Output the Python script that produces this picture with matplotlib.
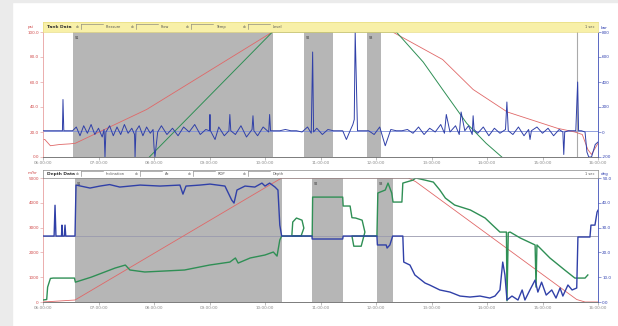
import matplotlib
matplotlib.use('Agg')
import matplotlib.pyplot as plt
from matplotlib.patches import Rectangle

# time axis in minutes from the start of the log (0..600)
time_labels = ['06:00:00', '07:00:00', '08:00:00', '09:00:00', '10:00:00', '11:00:00',
               '12:00:00', '13:00:00', '14:00:00', '15:00:00', '16:00:00']
tick_minutes = [0, 60, 120, 180, 240, 300, 360, 420, 480, 540, 600]

# ---- upper panel (Tank Data) ----
top_spans = [(32.4, 248.6), (282.1, 313.5), (350.2, 365.4)]
top_left_labels = ['0.0', '20.0', '40.0', '60.0', '80.0', '100.0']
top_right_labels = ['-200', '0', '200', '400', '600', '800']

top_red_x = [0, 2, 8, 18, 29, 35, 112, 248, 378, 432, 465, 502, 556, 575, 583, 589, 593, 600]
top_red_y = [14, 14, 9, 10, 10.5, 11, 38, 100, 100, 78, 54, 36, 23, 20, 18, 6, 2, 11]

top_green_x = [115, 248, 382, 411, 432, 458, 479, 496]
top_green_y = [0, 100, 100, 76, 54, 27, 11, 0]

top_blue_x = [0, 18, 21, 21.6, 22.5, 25, 32, 36, 40, 44, 48, 52, 56, 60, 64, 66, 67, 68, 72, 76,
              80, 84, 88, 92, 96, 99, 99.5, 100.5, 104, 108, 112, 116, 119, 120, 121, 124, 128,
              134, 140, 146, 152, 158, 164, 170, 176, 180, 180.5, 181, 186, 190, 196, 201, 202,
              203, 208, 214, 220, 226, 227, 228, 232, 238, 244, 245, 246, 250, 256, 262, 268,
              274, 280, 286, 290, 291.5, 292.5, 296, 302, 308, 314, 320, 322, 324, 328, 332,
              335, 336.5, 337.5, 340, 346, 352, 358, 364, 370, 376, 382, 388, 394, 400, 406,
              412, 418, 424, 430, 434, 436, 440, 446, 450, 452, 456, 460, 464, 465, 466, 470,
              476, 482, 488, 494, 500, 501.5, 503, 508, 514, 520, 525, 526.5, 528, 534, 540,
              546, 552, 558, 562, 563, 564, 568, 572, 576, 578, 579, 582, 586, 588, 590, 593,
              597, 600]
top_blue_y = [21, 21, 21, 46, 21, 21, 21, 24, 17, 25, 19, 26, 18, 23, 16, 22, 0, 20, 25, 17,
              24, 18, 26, 19, 23, 18, 0, 21, 25, 17, 24, 19, 22, 8, 0, 20, 25,
              18, 23, 17, 24, 20, 26, 18, 22, 21, 34, 21, 14, 24, 17, 21, 34,
              21, 18, 25, 16, 22, 33, 21, 17, 24, 20, 34, 21, 21, 21, 22, 21,
              21, 20, 24, 19, 84, 20, 23, 18, 22, 21, 21, 21, 21, 14, 21,
              26, 30, 100, 21, 21, 21, 18, 24, 9, 22, 21, 21, 22, 19, 24,
              18, 23, 20, 26, 19, 34, 20, 25, 18, 36, 21, 25, 18, 33, 22, 19,
              24, 17, 23, 19, 22, 44, 21, 18, 24, 17, 22, 14, 21, 24, 19,
              23, 17, 22, 20, 2, 20, 21, 21, 21, 60, 21, 21, 20, 4, 0, 0,
              10, 12]

# ---- lower panel (Depth Data) ----
bot_spans = [(34.6, 258.0), (290.8, 324.3), (361.1, 378.4)]
bot_left_labels = ['0', '1000', '2000', '3000', '4000', '5000']
bot_right_labels = ['0.0', '10.0', '20.0', '30.0', '40.0', '50.0']

bot_red_x = [0, 34.6, 248.6, 258, 395, 403, 577, 586, 600]
bot_red_y = [0, 1.6, 95.9, 100, 100, 97, 2, 0, 0]

bot_green_x = [0, 4, 5, 8, 11, 34, 35, 52, 78, 89, 94, 110, 153, 180, 202, 208, 211, 224, 240,
               249, 253, 256, 258, 267, 269, 270, 274, 280, 282, 279, 270, 282, 291, 291.5,
               324, 324.5, 332, 334, 338, 345, 348, 344, 336, 334, 340, 361, 362, 370, 373,
               377, 378.4, 388, 389, 400, 403, 413, 422, 429, 435, 445, 462, 478, 486, 494,
               501, 501.6, 503, 505, 516, 532, 533, 534, 548, 564, 575, 586, 589]
bot_green_y = [1.6, 2, 12, 19, 19.3, 19.3, 16, 20, 27.4, 29.8, 25.8, 24.2, 25.8, 29.8, 32.2,
               35.5, 31.4, 35.5, 37.9, 40.3, 37, 50, 53.2, 53.2, 53.2, 64.5, 67.7, 66, 59.6,
               53.2, 53.2, 53.2, 53.2, 84.6, 84.6, 77.4, 77.4, 68, 67.7, 66, 56.4, 45, 45,
               53.2, 53.2, 53.2, 87.9, 90.3, 95.9, 87.9, 80.6, 80.6, 95.9, 98.3, 100, 98.3,
               96.7, 90.3, 83.8, 78.2, 74.2, 67.7, 62, 56.4, 56.4, 1, 56, 56.4, 51.6, 46, 12,
               46, 35.5, 25.8, 19.3, 19.3, 21.8]

bot_blue_x = [0, 10.8, 12, 13, 14, 20, 20.5, 21, 23, 23.8, 24.6, 34.6, 35.7, 50.8, 61.6, 72,
              83, 105, 126.5, 148, 151.3, 154.6, 169.7, 180.5, 196.7, 204, 206.5, 209.7,
              218.4, 229, 236.7, 240, 245, 250.8, 254, 256, 258, 290.8, 291, 324, 324.5,
              361, 361.5, 371, 372, 375, 378, 389, 390, 396.7, 402, 413, 418, 429, 440,
              450.8, 461.6, 472.4, 483, 488.6, 494, 497, 499.4, 501.6, 507, 513.5, 518, 521,
              526.4, 532, 535, 539, 544, 550, 554.6, 559, 562, 567.5, 572, 577, 578.3,
              591.3, 592.4, 596.7, 599, 600]
bot_blue_y = [53.2, 53.2, 53.2, 78, 53.2, 53.2, 62, 53.2, 53.2, 62, 53.2, 53.2, 94.3, 91.9,
              93.5, 94.7, 92.7, 94.3, 93.5, 94.3, 87, 93.5, 94.3, 95.1, 93.5, 82.2, 79.8,
              90.3, 93.5, 92.7, 95.9, 93.5, 95.9, 92.7, 90.3, 62, 53.2, 53.2, 50.8, 50.8,
              53.2, 53.2, 46, 46, 43.5, 46, 53.2, 53.2, 32.2, 29.8, 21.8, 15.3, 13.7, 9.7,
              8, 4.8, 4, 4.8, 3.2, 4.8, 9.7, 32.2, 21.8, 1.6, 4.8, 1.6, 9.7, 1.6, 9.7, 17.7,
              8, 16, 5.6, 9.7, 3.2, 11.3, 4.8, 13.7, 9.7, 11.3, 52.4, 52.4, 62, 62, 72.5, 74]

W, H = 618, 326
RED = '#e06868'
GREEN = '#2f8f55'
BLUE = '#3040a8'
SHADE = '#b6b6b6'


def rect(left, top, right, bottom):
    # pixel box -> figure fraction box
    return [left / W, 1 - bottom / H, (right - left) / W, (bottom - top) / H]


fig = plt.figure(figsize=(W / 100, H / 100), dpi=100, facecolor='white')
fig.add_artist(Rectangle((0, 0), 12 / W, 1, transform=fig.transFigure,
                         color='#ebebeb', zorder=-5))
fig.add_artist(Rectangle((0, 1 - 1.5 / H), 1, 1.5 / H, transform=fig.transFigure,
                         color='#ebebeb', zorder=-5))


def header(box, color, title, items, edge):
    hx = fig.add_axes(box)
    hx.set_xlim(0, 555)
    hx.set_ylim(0, 1)
    hx.set_facecolor(color)
    hx.set_xticks([])
    hx.set_yticks([])
    for s in hx.spines.values():
        s.set_color(edge)
        s.set_linewidth(0.5)
    hx.text(4, 0.5, title, fontsize=3.2, fontweight='bold', va='center', color='#333333')
    for xpos, lab in items:
        hx.text(xpos, 0.5, 'ab', fontsize=2.2, va='center', color='#555555')
        hx.plot([xpos + 5, xpos + 27], [0.85, 0.85], color='#777777', lw=0.4)
        hx.plot([xpos + 5, xpos + 5], [0.3, 0.85], color='#777777', lw=0.4)
        hx.text(xpos + 30, 0.5, lab, fontsize=2.6, va='center', color='#555555')
    hx.text(542, 0.5, '1 sec', fontsize=2.6, va='center', color='#555555')
    return hx


def panel(box, spans, left_labels, right_labels, red, green, blue, ref_y, ref_color,
          line_w):
    ax = fig.add_axes(box)
    ax.set_xlim(0, 600)
    ax.set_ylim(0, 100)
    for i, (a, b) in enumerate(spans):
        ax.axvspan(a, b, color=SHADE, lw=0, zorder=0)
        ax.text(a + 2, 97, 'S%d' % (i + 1), fontsize=2.4, va='top', color='#333333')
    ax.axhline(ref_y, color=ref_color, lw=0.6, zorder=1)
    ax.plot(red[0], red[1], color=RED, lw=0.6, zorder=2)
    ax.plot(green[0], green[1], color=GREEN, lw=line_w, zorder=3)
    ax.set_xticks(tick_minutes)
    ax.set_xticklabels(time_labels, fontsize=3, color='#555555')
    ax.set_yticks([0, 20, 40, 60, 80, 100])
    ax.set_yticklabels(left_labels, fontsize=3, color='#d04848')
    ax.tick_params(axis='both', length=2, width=0.4, pad=1, colors='#888888')
    ax.tick_params(axis='y', labelcolor='#d04848', colors='#e09090')
    ax.spines['left'].set_color('#e8a0a0')
    ax.spines['bottom'].set_color('#666666')
    ax.spines['top'].set_visible(False)
    ax.spines['right'].set_color('#4050b8')
    for s in ax.spines.values():
        s.set_linewidth(0.6)

    ax2 = ax.twinx()
    ax2.set_ylim(0, 100)
    ax2.plot(blue[0], blue[1], color=BLUE, lw=line_w, zorder=4)
    ax2.set_yticks([0, 20, 40, 60, 80, 100])
    ax2.set_yticklabels(right_labels, fontsize=3, color='#3040b0')
    ax2.tick_params(axis='y', length=2, width=0.4, pad=1, colors='#4050b8',
                    labelcolor='#3040b0')
    for s in ax2.spines.values():
        s.set_visible(False)
    return ax


ax_top = panel(rect(43, 32, 598, 157), top_spans, top_left_labels, top_right_labels,
               (top_red_x, top_red_y), (top_green_x, top_green_y),
               (top_blue_x, top_blue_y), 21, '#8090d8', 0.7)
ax_top.axvline(577, color='#aaaaaa', lw=0.8, zorder=1)
header(rect(43, 22, 598, 32), '#f8f0a8', 'Tank Data',
       [(33, 'Pressure'), (88, 'Flow'), (143, 'Temp'), (200, 'Level')], '#e8dc80')
fig.text(28 / W, 1 - 27 / H, 'psi', fontsize=3, color='#d04848', va='center')
fig.text(601 / W, 1 - 28 / H, 'bar', fontsize=3, color='#3040b0', va='center')

ax_bot = panel(rect(43, 178, 598, 302), bot_spans, bot_left_labels, bot_right_labels,
               (bot_red_x, bot_red_y), (bot_green_x, bot_green_y),
               (bot_blue_x, bot_blue_y), 53.2, '#9a9aae', 1.0)
header(rect(43, 170, 598, 178), 'white', 'Depth Data',
       [(33, 'Inclination'), (92, 'Az'), (145, 'ROP'), (200, 'Depth')], '#888888')
fig.text(28 / W, 1 - 173 / H, 'm/hr', fontsize=3, color='#d04848', va='center')
fig.text(601 / W, 1 - 174 / H, 'deg', fontsize=3, color='#3040b0', va='center')

fig.savefig('out.png', dpi=100, facecolor='white')
